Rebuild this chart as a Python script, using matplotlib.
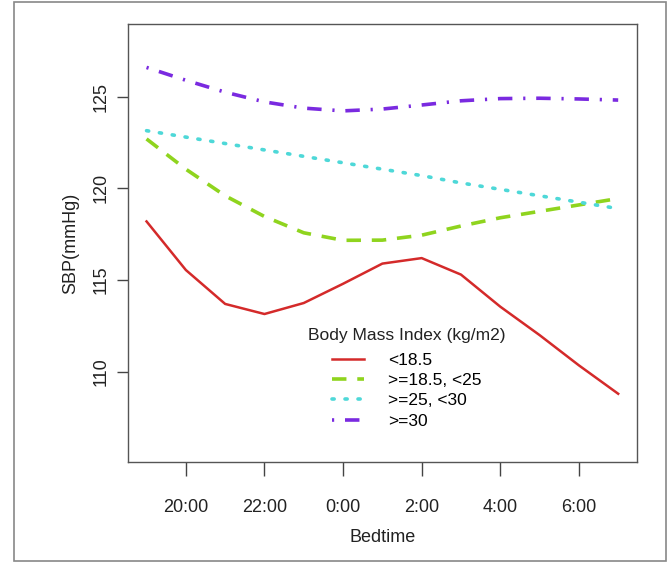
import matplotlib
matplotlib.use("Agg")
import matplotlib.pyplot as plt
from matplotlib.patches import Rectangle

plt.rcParams['font.family'] = ['Liberation Sans', 'DejaVu Sans']

# bedtime in hours (19 = 19:00, 31 = 7:00 next day)
hours = [19, 20, 21, 22, 23, 24, 25, 26, 27, 28, 29, 30, 31]
sbp_under185 = [118.2, 115.55, 113.7, 113.15, 113.75, 114.8, 115.9, 116.2, 115.3, 113.55, 112.0, 110.35, 108.8]
sbp_185_25 = [122.7, 121.05, 119.6, 118.47, 117.58, 117.17, 117.18, 117.45, 117.95, 118.4, 118.75, 119.1, 119.45]
sbp_25_30 = [123.15, 122.8, 122.45, 122.1, 121.75, 121.4, 121.05, 120.7, 120.3, 119.95, 119.6, 119.25, 118.9]
sbp_30 = [126.6, 125.9, 125.25, 124.72, 124.38, 124.23, 124.33, 124.55, 124.78, 124.9, 124.92, 124.88, 124.82]

tick_hours = [20, 22, 24, 26, 28, 30]
tick_labels = ["20:00", "22:00", "0:00", "2:00", "4:00", "6:00"]
legend_labels = ["<18.5", ">=18.5, <25", ">=25, <30", ">=30"]

fig = plt.figure(figsize=(6.72, 5.62), dpi=100)
ax = fig.add_axes([0.19, 0.178, 0.758, 0.779])

ax.plot(hours, sbp_under185, color="#d42a2a", lw=1.8, ls="-", label=legend_labels[0])
ax.plot(hours, sbp_185_25, color="#8fd41e", lw=2.6, ls=(0, (4, 3)), label=legend_labels[1])
ax.plot(hours, sbp_25_30, color="#4ed8d8", lw=2.6, ls=(0, (0.6, 3)), dash_capstyle="round",
        label=legend_labels[2])
ax.plot(hours, sbp_30, color="#7a2ae0", lw=2.6, ls=(0, (0.6, 3, 4, 3)), label=legend_labels[3])

ax.set_xlim(18.52, 31.48)
ax.set_ylim(105.08, 128.96)
ax.set_xticks(tick_hours)
ax.set_xticklabels(tick_labels)
ax.set_yticks([110, 115, 120, 125])
ax.set_yticklabels(["110", "115", "120", "125"], rotation=90, va="center")

ax.tick_params(direction="out", length=8, width=1, colors="#444444", labelsize=13,
               labelcolor="#222222")
ax.tick_params(axis="x", length=10, pad=17)
ax.tick_params(axis="y", pad=5)
for s in ax.spines.values():
    s.set_color("#555555")
    s.set_linewidth(1)

ax.set_xlabel("Bedtime", fontsize=13, labelpad=9, color="#222222")
ax.set_ylabel("SBP(mmHg)", fontsize=13, labelpad=10, color="#222222")

leg = ax.legend(loc="upper center", bbox_to_anchor=(0.548, 0.342), frameon=False,
                title="Body Mass Index (kg/m2)", fontsize=12.5, title_fontsize=12.5,
                handlelength=1.85, labelspacing=0.3, handletextpad=1.4)
leg._legend_box.sep = 7
leg.get_title().set_color("#222222")

fig.add_artist(Rectangle((14 / 672, 1 / 562), 652 / 672, 559 / 562, transform=fig.transFigure,
                         fill=False, edgecolor="#888888", lw=1.2))

fig.savefig("out.png", dpi=100)
